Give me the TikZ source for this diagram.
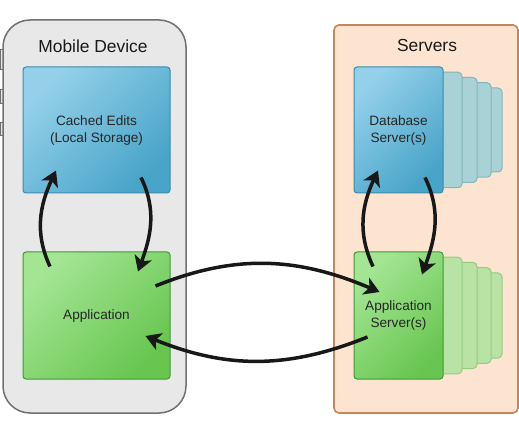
\documentclass[tikz,border=0pt]{standalone}
\usepackage{fontspec}
\setmainfont{Liberation Sans}
\definecolor{devedge}{RGB}{112,112,112}
\definecolor{devfill}{RGB}{232,232,232}
\definecolor{srvedge}{RGB}{198,134,94}
\definecolor{srvfill}{RGB}{253,228,208}
\definecolor{blulight}{RGB}{148,208,234}
\definecolor{bludark}{RGB}{72,164,200}
\definecolor{bluedge}{RGB}{58,138,172}
\definecolor{grnlight}{RGB}{164,229,148}
\definecolor{grndark}{RGB}{104,198,80}
\definecolor{grnedge}{RGB}{62,152,54}
\definecolor{bluback}{RGB}{168,210,214}
\definecolor{blubackedge}{RGB}{130,182,188}
\definecolor{grnback}{RGB}{184,227,164}
\definecolor{grnbackedge}{RGB}{146,204,128}
\definecolor{arrdark}{RGB}{24,24,24}
\usetikzlibrary{arrows.meta,calc}
\newcommand{\titlefont}{\fontsize{17.4}{20}\selectfont}
\newcommand{\boxfont}{\fontsize{13.6}{17}\selectfont}

\begin{document}
\begin{tikzpicture}[x=1pt,y=1pt,
  devbody/.style={draw=devedge,fill=devfill,line width=1.5pt,rounded corners=27pt,
    minimum width=183pt,minimum height=393pt},
  devbtn/.style={draw=devedge,fill=devfill,line width=1pt,minimum width=4pt,inner sep=0pt},
  srvbody/.style={draw=srvedge,fill=srvfill,line width=1.6pt,rounded corners=5pt,
    minimum width=184pt,minimum height=388pt},
  grouptitle/.style={font=\titlefont,text=black!90},
  bluebox/.style={draw=bluedge,line width=1pt,rounded corners=3pt,
    top color=blulight,bottom color=bludark,shading angle=45,
    align=center,font=\boxfont,text=black!85},
  greenbox/.style={draw=grnedge,line width=1pt,rounded corners=3pt,
    top color=grnlight,bottom color=grndark,shading angle=45,
    align=center,font=\boxfont,text=black!85},
  dbpage/.style={draw=blubackedge,fill=bluback,line width=1pt,rounded corners=4pt,
    minimum width=89pt},
  apppage/.style={draw=grnbackedge,fill=grnback,line width=1pt,rounded corners=4pt,
    minimum width=89pt},
  flowarr/.style={-{Stealth[length=15pt,width=18pt,inset=4pt]},line width=3.5pt,arrdark}
]
  \useasboundingbox (0,0) rectangle (519,423);
  % Mobile device
  \foreach \k/\y/\h in {1/363/20,2/326/14,3/293.5/13}
    \node[devbtn,minimum height=\h] (btn\k) at (2.5,\y) {};
  \node[devbody] (device) at (94.5,206.5) {};
  \node[grouptitle] (devtitle) at (93,377) {Mobile Device};
  \node[bluebox,minimum width=147pt,minimum height=126pt] (cache) at (96.5,293)
    {Cached Edits\\(Local Storage)};
  \node[greenbox,minimum width=147pt,minimum height=127pt] (app) at (96.5,107.5)
    {Application};
  % Servers
  \node[srvbody] (servers) at (426,204) {};
  \node[grouptitle] (srvtitle) at (427,377) {Servers};
  \foreach \k/\dx in {4/59,3/48,2/34,1/19}{
    \node[dbpage,minimum height={126-10.5*\k}] (dbp\k) at (398.5+\dx,293) {};
    \node[apppage,minimum height={127-10.5*\k}] (asp\k) at (398.5+\dx,107.5) {};
  }
  \node[bluebox,minimum width=89pt,minimum height=126pt] (db) at (398.5,293)
    {Database\\Server(s)};
  \node[greenbox,minimum width=89pt,minimum height=127pt] (appsrv) at (398.5,107.5)
    {Application\\Server(s)};
  % Flows
  \draw[flowarr] ($(app.north)+(-46.5,-15)$) to[out=115,in=-115] ($(cache.south)+(-40.5,23)$);
  \draw[flowarr] ($(cache.south)+(44.5,16)$) to[out=-64,in=70] ($(app.north)+(41.5,-20)$);
  \draw[flowarr] ($(app.east)+(-15,29.5)$) to[out=22,in=157] ($(appsrv.west)+(26,23.5)$);
  \draw[flowarr] ($(appsrv.west)+(14,-21.5)$) to[out=-158,in=-22] ($(app.east)+(-25,-20.5)$);
  \draw[flowarr] ($(appsrv.north)+(-25.5,-15)$) to[out=115,in=-115] ($(db.south)+(-20.5,23)$);
  \draw[flowarr] ($(db.south)+(26.5,16)$) to[out=-64,in=70] ($(appsrv.north)+(23.5,-23)$);
\end{tikzpicture}
\end{document}
